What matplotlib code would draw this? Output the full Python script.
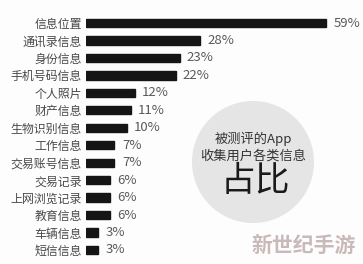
import matplotlib.pyplot as plt
from matplotlib.patches import Circle

plt.rcParams['font.family'] = ['Noto Sans CJK SC', 'DejaVu Sans']

categories = ['信息位置', '通讯录信息', '身份信息', '手机号码信息', '个人照片', '财产信息',
              '生物识别信息', '工作信息', '交易账号信息', '交易记录', '上网浏览记录',
              '教育信息', '车辆信息', '短信信息']
values = [59, 28, 23, 22, 12, 11, 10, 7, 7, 6, 6, 6, 3, 3]
value_labels = ['59%', '28%', '23%', '22%', '12%', '11%', '10%', '7%', '7%',
                '6%', '6%', '6%', '3%', '3%']

W, H = 363, 264
fig = plt.figure(figsize=(W / 100, H / 100), dpi=100)
fig.patch.set_facecolor('#fdfdfd')

# bar axes: 0% at x=86px, ~4.07px per %, rows from y=23 to y=250
x0, xmax = 86, 60
pxper = 4.07
top_px, bot_px = 14.3, 258.7
ax = fig.add_axes([x0 / W, (H - bot_px) / H, xmax * pxper / W, (bot_px - top_px) / H])
ax.set_facecolor('none')
y = list(range(len(categories)))
ax.barh(y, values, height=0.47, color='#151515', edgecolor='#151515')
ax.set_xlim(0, xmax)
ax.set_ylim(len(categories) - 0.5, -0.5)
ax.set_yticks(y)
ax.set_yticklabels(categories, fontsize=8.6, color='#4a4a4a')
ax.tick_params(axis='y', length=0, pad=3)
ax.set_xticks([])
for s in ax.spines.values():
    s.set_visible(False)
for yi, v, lab in zip(y, values, value_labels):
    ax.text(v + 1.8, yi, lab, va='center', ha='left', fontsize=9.5, color='#5a5a5a')

# overlay in pixel coordinates
ov = fig.add_axes([0, 0, 1, 1])
ov.set_xlim(0, W)
ov.set_ylim(H, 0)
ov.axis('off')
ov.set_zorder(-1)
ov.add_patch(Circle((253, 162), 61, color='#e5e5e5', ec='none'))
ov.text(253, 139, '被测评的App', ha='center', va='center', fontsize=9.5, color='#333333')
ov.text(253, 156, '收集用户各类信息', ha='center', va='center', fontsize=9.5, color='#333333')
ov.text(255, 182, '占比', ha='center', va='center', fontsize=25, color='#1a1a1a')
ov.text(304, 245, '新世纪手游', ha='center', va='center', fontsize=15, color='#c9b9b9',
        fontweight='bold')

fig.savefig('out.png', dpi=100, facecolor=fig.get_facecolor())
